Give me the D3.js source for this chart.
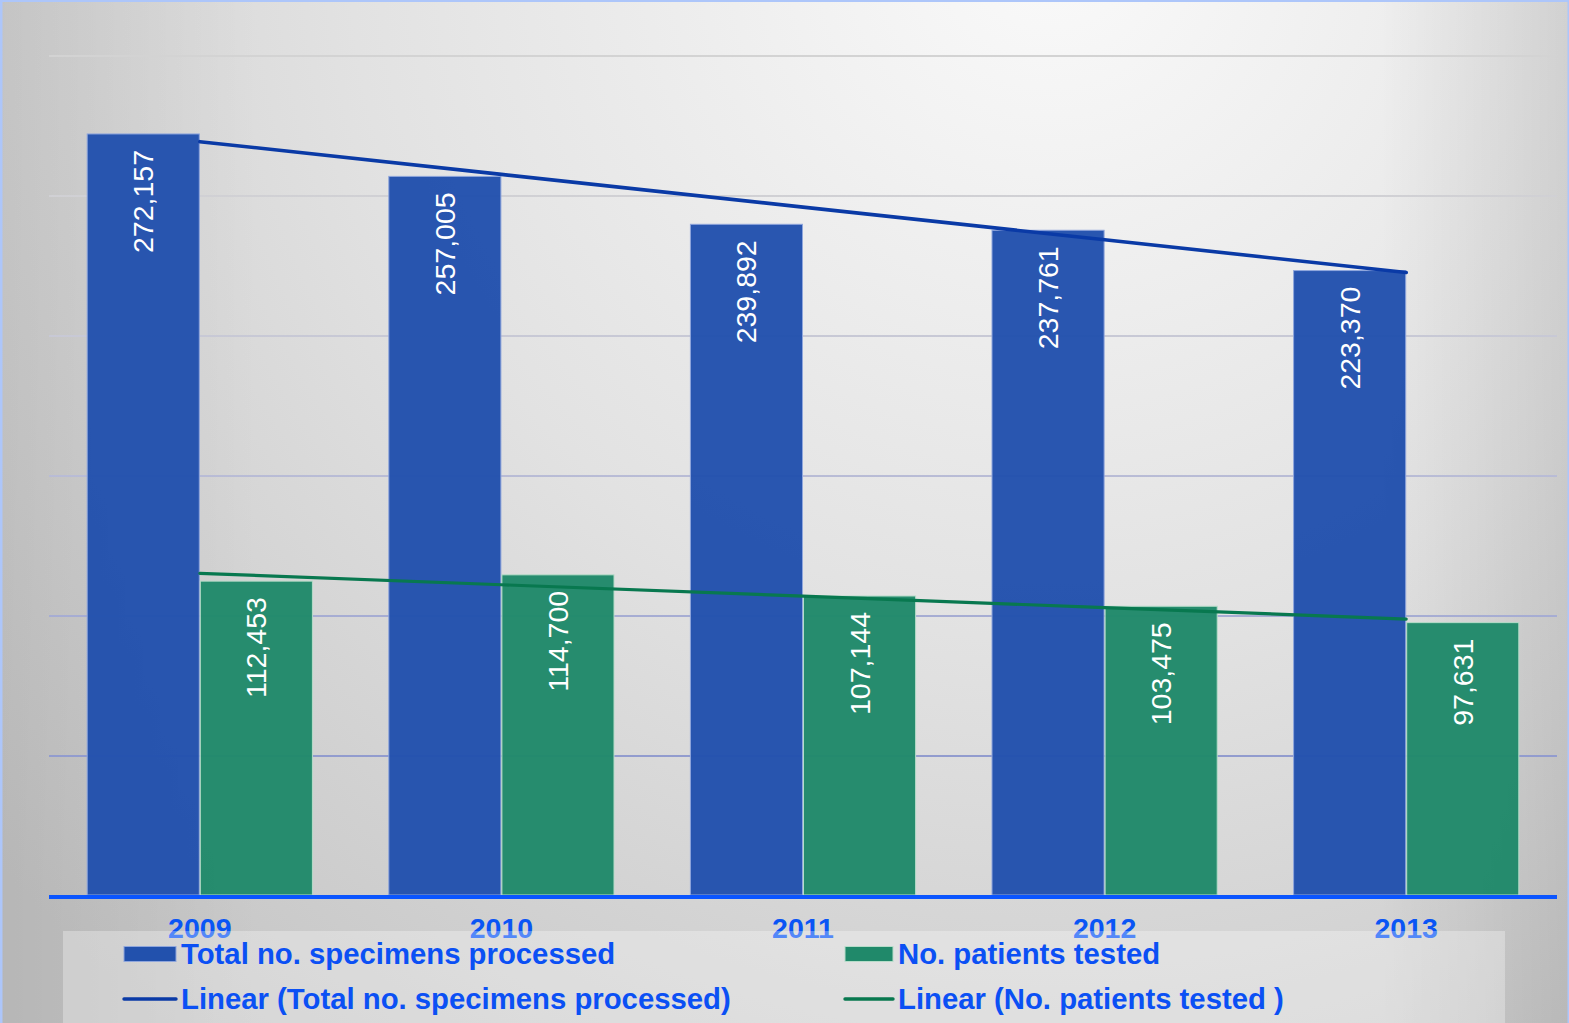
<!DOCTYPE html>
<html>
<head>
<meta charset="utf-8">
<script src="https://cdn.jsdelivr.net/npm/d3@7/dist/d3.min.js"></script>
<style>
  html, body { margin: 0; padding: 0; background: #ffffff; }
  svg { display: block; }
  text { font-family: "Liberation Sans", Arial, sans-serif; }
</style>
</head>
<body>
<svg id="chart" width="1569" height="1023"></svg>
<script>
// Laboratory workload by year
const years = ["2009", "2010", "2011", "2012", "2013"];
const specimens = [272157, 257005, 239892, 237761, 223370];
const patients = [112453, 114700, 107144, 103475, 97631];
const gridTicks = [50000, 100000, 150000, 200000, 250000, 300000];
const seriesNames = ["Total no. specimens processed", "No. patients tested"];
const trendNames = ["Linear (Total no. specimens processed)", "Linear (No. patients tested )"];
const barColors = ["#2251ad", "#20896a"];
const barEdges = ["#8fa6dc", "#b6dcc9"];
const trendColors = ["#0a3aa6", "#08784f"];

const W = 1569, H = 1023;
const plot = { left: 49, right: 1557, top: 56, bottom: 896 };

const svg = d3.select("#chart");
const defs = svg.append("defs");

// Soft grey backdrop, brightest near the top centre-right
const bg = defs.append("radialGradient").attr("id", "bgGrad")
  .attr("gradientUnits", "userSpaceOnUse")
  .attr("cx", 1050).attr("cy", -60).attr("r", 1400);
bg.append("stop").attr("offset", "0").attr("stop-color", "#fafafa");
bg.append("stop").attr("offset", "0.5").attr("stop-color", "#e2e2e2");
bg.append("stop").attr("offset", "1").attr("stop-color", "#c4c4c4");

const rightShade = defs.append("linearGradient").attr("id", "rightShade")
  .attr("gradientUnits", "userSpaceOnUse")
  .attr("x1", 1380).attr("y1", 0).attr("x2", 1569).attr("y2", 0);
rightShade.append("stop").attr("offset", "0").attr("stop-color", "#000").attr("stop-opacity", 0);
rightShade.append("stop").attr("offset", "1").attr("stop-color", "#000").attr("stop-opacity", 0.1);

const leftShade = defs.append("linearGradient").attr("id", "leftShade")
  .attr("gradientUnits", "userSpaceOnUse")
  .attr("x1", 0).attr("y1", 0).attr("x2", 260).attr("y2", 0);
leftShade.append("stop").attr("offset", "0").attr("stop-color", "#000").attr("stop-opacity", 0.07);
leftShade.append("stop").attr("offset", "1").attr("stop-color", "#000").attr("stop-opacity", 0);

// Gridlines fade from neutral grey at the top to a muted blue lower down
const gridGrad = defs.append("linearGradient").attr("id", "gridGrad")
  .attr("gradientUnits", "userSpaceOnUse")
  .attr("x1", 0).attr("y1", plot.top).attr("x2", 0).attr("y2", plot.bottom);
gridGrad.append("stop").attr("offset", "0").attr("stop-color", "#d3d3d3");
gridGrad.append("stop").attr("offset", "0.25").attr("stop-color", "#cfcfd5");
gridGrad.append("stop").attr("offset", "0.55").attr("stop-color", "#b4b8d6");
gridGrad.append("stop").attr("offset", "0.8").attr("stop-color", "#97a0d0");
gridGrad.append("stop").attr("offset", "1").attr("stop-color", "#7a88c6");

svg.append("rect").attr("width", W).attr("height", H).attr("fill", "url(#bgGrad)");
svg.append("rect").attr("x", 1380).attr("width", 189).attr("height", H).attr("fill", "url(#rightShade)");
svg.append("rect").attr("x", 0).attr("width", 260).attr("height", H).attr("fill", "url(#leftShade)");

// Frame edges
svg.append("rect").attr("x", 0).attr("y", 0).attr("width", 2.5).attr("height", H).attr("fill", "#adc6fa");
svg.append("rect").attr("x", 0).attr("y", 0).attr("width", W).attr("height", 2).attr("fill", "#adc6fa");
svg.append("rect").attr("x", W - 1.5).attr("y", 0).attr("width", 1.5).attr("height", H).attr("fill", "#adc6fa");

// Scales
const x0 = d3.scaleBand().domain(years).range([plot.left, plot.right])
  .paddingInner(0.25).paddingOuter(0.125);
const x1 = d3.scaleBand().domain([0, 1]).range([0, x0.bandwidth()]).padding(0);
const y = d3.scaleLinear().domain([0, 300000]).range([plot.bottom, plot.top]);

// Gridlines
svg.append("g").selectAll("line").data(gridTicks).join("line")
  .attr("x1", plot.left).attr("x2", plot.right)
  .attr("y1", d => y(d)).attr("y2", d => y(d))
  .attr("stroke", "url(#gridGrad)").attr("stroke-width", 2.2);

// Bars
const seriesData = [specimens, patients];
const barsG = svg.append("g");
seriesData.forEach((vals, s) => {
  barsG.append("g").selectAll("rect").data(vals).join("rect")
    .attr("x", (d, i) => x0(years[i]) + x1(s) + 0.5)
    .attr("y", d => y(d))
    .attr("width", x1.bandwidth() - 1)
    .attr("height", d => plot.bottom - y(d) - 1)
    .attr("fill", barColors[s])
    .attr("fill-opacity", 0.97)
    .attr("stroke", barEdges[s])
    .attr("stroke-width", 1);
});

// Value labels inside the bar tops, reading upward
const fmt = d3.format(",");
seriesData.forEach((vals, s) => {
  barsG.append("g").selectAll("text").data(vals).join("text")
    .attr("transform", (d, i) => {
      const cx = x0(years[i]) + x1(s) + x1.bandwidth() / 2;
      return `translate(${cx},${y(d) + 16}) rotate(-90)`;
    })
    .attr("text-anchor", "end")
    .attr("dominant-baseline", "central")
    .attr("fill", "#ffffff")
    .attr("font-size", 28.5)
    .text(d => fmt(d));
});

// Least-squares trend lines across the category centres
function linearFit(vals) {
  const n = vals.length;
  const xs = vals.map((_, i) => i + 1);
  const mx = d3.mean(xs), my = d3.mean(vals);
  const slope = d3.sum(xs.map((xv, i) => (xv - mx) * (vals[i] - my))) /
                d3.sum(xs.map(xv => (xv - mx) * (xv - mx)));
  return xs.map(xv => my + slope * (xv - mx));
}
const centre = yr => x0(yr) + x0.bandwidth() / 2;
const trendLine = d3.line().x((d, i) => centre(years[i])).y(d => y(d));
seriesData.forEach((vals, s) => {
  svg.append("path").datum(linearFit(vals))
    .attr("d", trendLine)
    .attr("fill", "none")
    .attr("stroke", trendColors[s])
    .attr("stroke-width", s === 0 ? 3.6 : 3.2)
    .attr("stroke-linecap", "round");
});

// Category axis
svg.append("line")
  .attr("x1", plot.left).attr("x2", plot.right)
  .attr("y1", plot.bottom + 1).attr("y2", plot.bottom + 1)
  .attr("stroke", "#0a55ff").attr("stroke-width", 4);

const xAxis = d3.axisBottom(x0).tickSize(0).tickPadding(0);
const axG = svg.append("g").attr("transform", `translate(0,${plot.bottom})`).call(xAxis);
axG.select(".domain").remove();
axG.selectAll("text")
  .attr("y", 42).attr("dy", 0)
  .attr("font-size", 28.5)
  .attr("font-weight", "bold")
  .attr("font-family", "'Liberation Sans', Arial, sans-serif")
  .attr("fill", "#0a55f5");

// Legend panel
svg.append("rect").attr("x", 63).attr("y", 931).attr("width", 1442).attr("height", H - 931)
  .attr("fill", "#ffffff").attr("fill-opacity", 0.3);

const legendItems = [
  { kind: "box", color: barColors[0], edge: barEdges[0], label: seriesNames[0], x: 124, cy: 954 },
  { kind: "box", color: barColors[1], edge: barEdges[1], label: seriesNames[1], x: 845, cy: 954 },
  { kind: "line", color: trendColors[0], label: trendNames[0], x: 124, cy: 999 },
  { kind: "line", color: trendColors[1], label: trendNames[1], x: 845, cy: 999 }
];
const lg = svg.append("g");
legendItems.forEach(it => {
  const sw = it.x === 124 ? 52 : 48;
  if (it.kind === "box") {
    lg.append("rect").attr("x", it.x).attr("y", it.cy - 7.5).attr("width", sw).attr("height", 15)
      .attr("fill", it.color).attr("stroke", it.edge).attr("stroke-width", 1);
  } else {
    lg.append("line").attr("x1", it.x).attr("x2", it.x + sw)
      .attr("y1", it.cy).attr("y2", it.cy)
      .attr("stroke", it.color).attr("stroke-width", 3.4).attr("stroke-linecap", "round");
  }
  lg.append("text").attr("x", it.x + sw + 5).attr("y", it.cy + 10)
    .attr("font-size", 29.3).attr("font-weight", "bold")
    .attr("fill", "#0b50f4")
    .text(it.label);
});
</script>
</body>
</html>
